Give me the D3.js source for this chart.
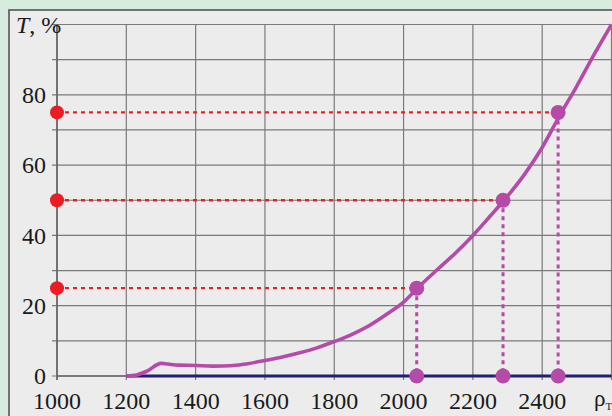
<!DOCTYPE html>
<html><head><meta charset="utf-8">
<script src="https://cdn.jsdelivr.net/npm/d3@7"></script>
<style>html,body{margin:0;padding:0;background:#d7ecdf;}svg{display:block;}</style>
</head><body>
<script>
const curveX = [1200,1230,1260,1300,1320,1350,1400,1450,1500,1550,1600,1650,1700,1750,1800,1850,1900,1950,2000,2040,2100,2150,2200,2250,2290,2350,2400,2450,2500,2550,2600];
const curveT = [0,0.3,1.4,3.6,3.4,3.1,3.0,2.8,2.9,3.5,4.4,5.4,6.6,8.0,9.8,11.8,14.3,17.5,21.0,25,30.5,35,40,45.5,50,57.5,65,74,82.5,91.5,100];
const baseX = [1200,2600];
const baseT = [0,0];
const levelsT = [25,50,75];
const levelsX = [2038,2287,2446];
const xTicks = [1000,1200,1400,1600,1800,2000,2200,2400];
const xGrid = [1000,1200,1400,1600,1800,2000,2200,2400,2600];
const yTicks = [0,20,40,60,80];
const yGrid = [0,10,20,30,40,50,60,70,80,90,100];

const W=612,H=416;
const svg=d3.select("body").append("svg").attr("width",W).attr("height",H);
svg.append("rect").attr("width",W).attr("height",H).attr("fill","#d7ecdf");
svg.append("rect").attr("x",9).attr("y",10).attr("width",W+20).attr("height",H+20)
  .attr("fill","#ececec").attr("stroke","#555").attr("stroke-width",1.6);

const x=d3.scaleLinear().domain([1000,2600]).range([57,611.5]);
const y=d3.scaleLinear().domain([0,100]).range([376,24.5]);
const font="'Liberation Serif','Times New Roman',serif";

const g=svg.append("g");
g.selectAll("line.hg").data(yGrid).join("line").attr("class","hg")
  .attr("x1",52).attr("x2",x(2600)).attr("y1",d=>y(d)).attr("y2",d=>y(d))
  .attr("stroke","#7a7a7a").attr("stroke-width",1.2);
g.selectAll("line.vg").data(xGrid).join("line").attr("class","vg")
  .attr("y1",y(100)).attr("y2",y(0)+4).attr("x1",d=>x(d)).attr("x2",d=>x(d))
  .attr("stroke","#7a7a7a").attr("stroke-width",1.2);
g.append("line").attr("x1",x(1000)).attr("x2",x(1000)).attr("y1",y(100)).attr("y2",y(0)+4)
  .attr("stroke","#666").attr("stroke-width",1.6);
g.append("line").attr("x1",x(1000)).attr("x2",x(2600)).attr("y1",y(0)).attr("y2",y(0))
  .attr("stroke","#666").attr("stroke-width",1.6);

g.selectAll("text.yt").data(yTicks).join("text").attr("class","yt")
  .attr("x",46).attr("y",d=>y(d)).attr("dy","0.34em").attr("text-anchor","end")
  .attr("font-family",font).attr("font-size",24).attr("fill","#1a1a1a").text(d=>d);
g.selectAll("text.xt").data(xTicks).join("text").attr("class","xt")
  .attr("x",d=>x(d)).attr("y",409).attr("text-anchor","middle")
  .attr("font-family",font).attr("font-size",24).attr("fill","#1a1a1a").text(d=>d);

const tt=g.append("text").attr("x",16).attr("y",33).attr("font-family",font).attr("font-size",24).attr("fill","#1a1a1a");
tt.append("tspan").attr("font-style","italic").text("T");
tt.append("tspan").text(", %");
const rt=g.append("text").attr("x",594).attr("y",406).attr("font-family",font).attr("font-size",23).attr("fill","#1a1a1a");
rt.append("tspan").text("ρ");
rt.append("tspan").attr("font-size",11).attr("dy",4).text("Т");

g.append("path").datum(baseX.map((d,i)=>[d,baseT[i]]))
  .attr("d",d3.line().x(d=>x(d[0])).y(d=>y(d[1])))
  .attr("stroke","#1e1f78").attr("stroke-width",3.2).attr("fill","none");

g.selectAll("line.rh").data(levelsT).join("line").attr("class","rh")
  .attr("x1",x(1000)).attr("x2",(d,i)=>x(levelsX[i])).attr("y1",d=>y(d)).attr("y2",d=>y(d))
  .attr("stroke","#e8202a").attr("stroke-width",2.4).attr("stroke-dasharray","4,4");
g.selectAll("line.mv").data(levelsX).join("line").attr("class","mv")
  .attr("x1",d=>x(d)).attr("x2",d=>x(d)).attr("y1",(d,i)=>y(levelsT[i])).attr("y2",y(0))
  .attr("stroke","#b54aa8").attr("stroke-width",3).attr("stroke-dasharray","4,4");

g.append("path").datum(curveX.map((d,i)=>[d,curveT[i]]))
  .attr("d",d3.line().x(d=>x(d[0])).y(d=>y(d[1])).curve(d3.curveMonotoneX))
  .attr("stroke","#b54aa8").attr("stroke-width",3.6).attr("fill","none").attr("stroke-linejoin","round");

g.selectAll("circle.rd").data(levelsT).join("circle").attr("class","rd")
  .attr("cx",x(1000)).attr("cy",d=>y(d)).attr("r",7).attr("fill","#ec1c24");
g.selectAll("circle.md").data(levelsX).join("circle").attr("class","md")
  .attr("cx",d=>x(d)).attr("cy",(d,i)=>y(levelsT[i])).attr("r",7.5).attr("fill","#b54aa8");
g.selectAll("circle.mb").data(levelsX).join("circle").attr("class","mb")
  .attr("cx",d=>x(d)).attr("cy",y(0)).attr("r",7.5).attr("fill","#b54aa8");
</script>
</body></html>
